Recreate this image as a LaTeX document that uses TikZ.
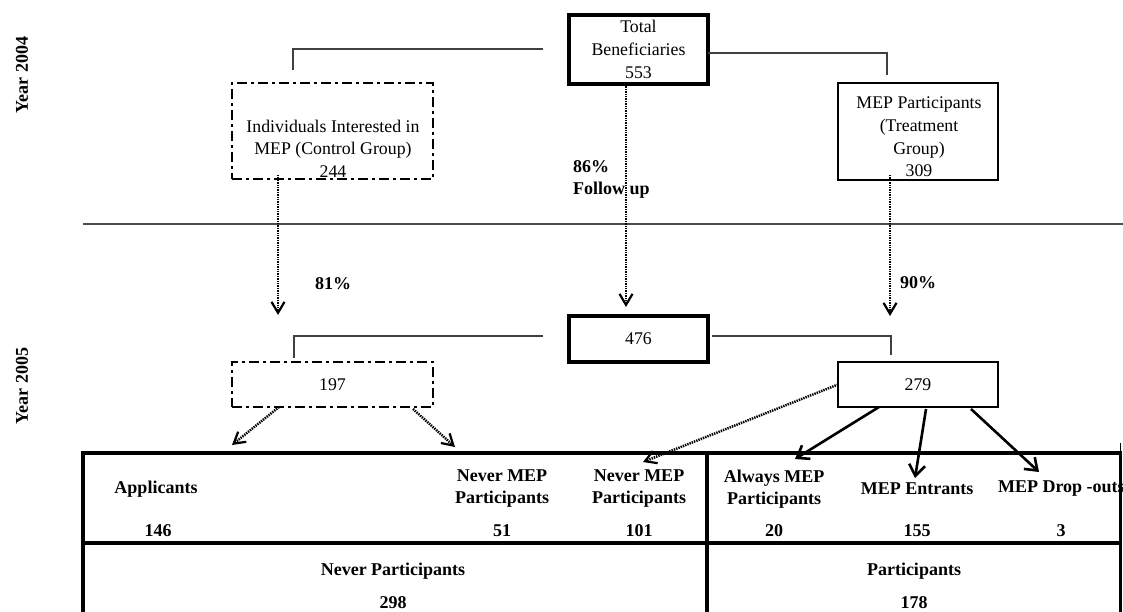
\documentclass[tikz,border=0pt]{standalone}
\usepackage{fontspec}
\setmainfont{Liberation Serif}
\usetikzlibrary{arrows.meta}
\begin{document}
\begin{tikzpicture}[x=1pt,y=-1pt,
  txt/.style={inner sep=0pt, outer sep=0pt, font=\fontsize{17.8}{22.6}\selectfont, align=center},
  btxt/.style={inner sep=0pt, outer sep=0pt, font=\fontsize{18}{22}\selectfont\bfseries, align=center},
  yeartxt/.style={inner sep=0pt, font=\fontsize{18}{20}\selectfont\bfseries, rotate=90},
  thickbox/.style={draw, line width=3.5pt, inner sep=0pt, outer sep=0pt, align=center, font=\fontsize{17.8}{22.6}\selectfont},
  plainbox/.style={draw, line width=2.2pt, inner sep=0pt, outer sep=0pt, align=center, font=\fontsize{17.8}{22.6}\selectfont},
  dashbox/.style={draw, line width=2pt, inner sep=0pt, outer sep=0pt, align=center, font=\fontsize{17.8}{22.6}\selectfont, dash pattern=on 10pt off 4pt on 3pt off 4pt},
  conn/.style={draw=black!75, line width=1.1pt},
  dotarrow/.style={line width=2.5pt, dash pattern=on 1.4pt off 1pt, -{Straight Barb[length=11pt,width=13pt,line width=2.2pt]}},
  solidarrow/.style={line width=2.6pt, -{Straight Barb[length=11pt,width=16pt,line width=2.6pt]}},
  tline/.style={line width=3.6pt}
]
\path[use as bounding box, fill=white] (0,0) rectangle (1123,611);

% year labels
\node[yeartxt] (y04) at (22,75) {Year 2004};
\node[yeartxt] (y05) at (22,386) {Year 2005};

% separator
\draw[draw=black!70, line width=1.1pt] (83,224) -- (1123,224);

% 2004 boxes
\node[thickbox, minimum width=139pt, minimum height=69pt] (tot) at (638.5,49.5) {Total\\Beneficiaries\\553};
\node[dashbox, minimum width=201pt, minimum height=96pt] (ctrl) at (332.5,131) {};
\node[txt] (ctrlT) at (333,148.5) {Individuals Interested in\\MEP (Control Group)\\244};
\node[plainbox, minimum width=160pt, minimum height=97pt] (mep) at (918,131.5) {};
\node[txt] (mepT) at (919,137) {MEP Participants\\(Treatment\\Group)\\309};

% 2005 boxes
\node[thickbox, minimum width=139pt, minimum height=46pt] (n476) at (638.5,339) {476};
\node[dashbox, minimum width=201pt, minimum height=45pt] (n197) at (332.5,384.5) {197};
\node[plainbox, minimum width=160pt, minimum height=45pt] (n279) at (918,384.5) {279};

% bracket connectors 2004
\coordinate (tl1) at (543,49);
\coordinate (tl2) at (293,49);
\coordinate (tl3) at (293,70);
\draw[conn] (tl1) -- (tl2) -- (tl3);
\coordinate (tr1) at (887,53);
\coordinate (tr2) at (887,75);
\draw[conn] (tot.east |- tr1) -- (tr1) -- (tr2);

% bracket connectors 2005
\coordinate (ml1) at (543,336);
\coordinate (ml2) at (294,336);
\coordinate (ml3) at (294,358);
\draw[conn] (ml1) -- (ml2) -- (ml3);
\coordinate (mr0) at (712,336);
\coordinate (mr1) at (891,336);
\coordinate (mr2) at (891,355);
\draw[conn] (mr0) -- (mr1) -- (mr2);

% follow-up arrows
\coordinate (a1) at (278,315);
\coordinate (a2) at (626,307);
\coordinate (a3) at (890,316);
\draw[dotarrow] ([yshift=4pt]ctrl.south -| a1) -- (a1);
\draw[dotarrow] (tot.south -| a2) -- (a2);
\draw[dotarrow] ([yshift=5pt]mep.south -| a3) -- (a3);

\node[btxt, anchor=north west, align=left] (fu) at (573,161) {86\%\\Follow up};
\node[btxt] (p81) at (333,284) {81\%};
\node[btxt] (p90) at (918,283) {90\%};

% arrows from 197
\coordinate (b1s) at (279,407);
\coordinate (b1) at (232,445);
\coordinate (b2s) at (413,409);
\coordinate (b2) at (455,447);
\draw[dotarrow] (n197.south -| b1s) -- (b1);
\draw[dotarrow] ([yshift=-2pt]n197.south -| b2s) -- (b2);

% arrows from 279
\coordinate (c0) at (643,462);
\draw[dotarrow] (n279.west) -- (c0);
\coordinate (c1s) at (879,409);
\coordinate (c1) at (795,459);
\coordinate (c2s) at (926,410);
\coordinate (c2) at (915,478);
\coordinate (c3s) at (971,410);
\coordinate (c3) at (1039,472);
\draw[solidarrow] (n279.south -| c1s) -- (c1);
\draw[solidarrow] ([yshift=-2pt]n279.south -| c2s) -- (c2);
\draw[solidarrow] ([yshift=-2pt]n279.south -| c3s) -- (c3);

% table
\draw[tline] (81.2,453) -- (1122,453);
\draw[tline] (81.2,543) -- (1122,543);
\draw[tline] (83,451.2) -- (83,615);
\draw[tline] (707,451.2) -- (707,615);
\draw[line width=1.5pt] (1120.5,443) -- (1120.5,453);
\draw[tline] (1120.5,451.2) -- (1120.5,615);

% table texts
\node[btxt] (app) at (156,489) {Applicants};
\node[btxt] (app146) at (158,531) {146};
\node[btxt] (nv1) at (502,489) {Never MEP\\Participants};
\node[btxt] (nv51) at (502,531) {51};
\node[btxt] (nv2) at (639,489) {Never MEP\\Participants};
\node[btxt] (nv101) at (639,531) {101};
\node[btxt] (alw) at (774,489) {Always MEP\\Participants};
\node[btxt] (alw20) at (774,531) {20};
\node[btxt] (ent) at (917,489) {MEP Entrants};
\node[btxt] (ent155) at (917,531) {155};
\node[btxt, anchor=west] (drop) at (998,489) {MEP Drop -outs};
\node[btxt] (drop3) at (1061,531) {3};
\node[btxt] (np) at (393,571) {Never Participants};
\node[btxt] (np298) at (393,603) {298};
\node[btxt] (pp) at (914,571) {Participants};
\node[btxt] (pp178) at (914,603) {178};
\end{tikzpicture}
\end{document}
